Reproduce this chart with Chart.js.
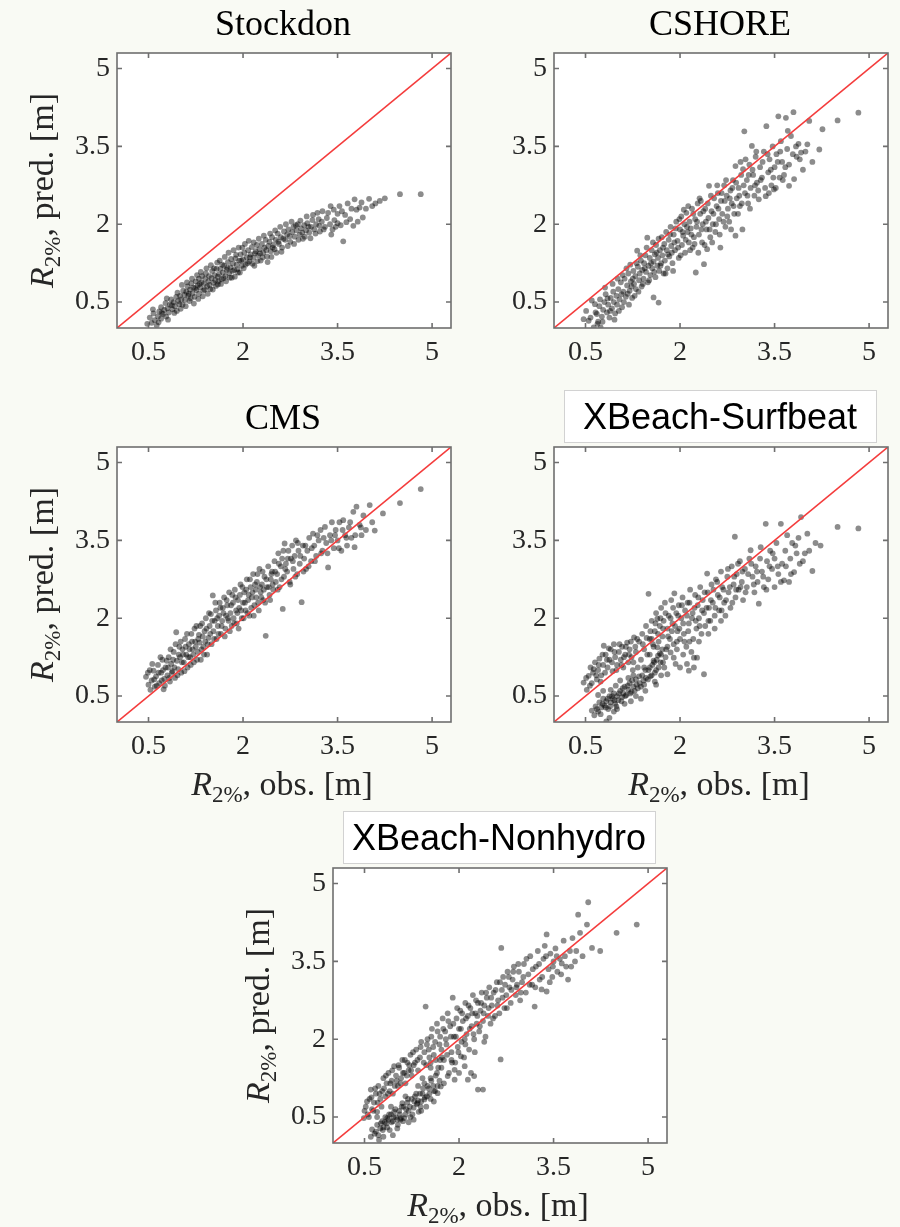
<!DOCTYPE html>
<html>
<head>
<meta charset="utf-8">
<script src="https://cdn.jsdelivr.net/npm/chart.js@4.4.0/dist/chart.umd.min.js"></script>
<style>
    body { margin: 0; width: 900px; height: 1227px; overflow: hidden; position: relative; background: #f9faf4; }
    canvas { position: absolute; }
</style>
</head>
<body>
<canvas id="chart-stockdon" width="463" height="427" style="left:0px;top:-9px"></canvas>
<canvas id="chart-cshore" width="463" height="427" style="left:437px;top:-9px"></canvas>
<canvas id="chart-cms" width="463" height="427" style="left:0px;top:385px"></canvas>
<canvas id="chart-surfbeat" width="463" height="427" style="left:437px;top:385px"></canvas>
<canvas id="chart-nonhydro" width="463" height="427" style="left:216px;top:806px"></canvas>
<script>
// Trục chung cho cả 5 ô
const tickValues = [0.5, 2, 3.5, 5];
const axisMin = 0;
const axisMax = 5.3;
const oneToOne = [axisMin, axisMax];

// Dữ liệu: [R2% quan trắc, R2% dự báo]
const stockdonPoints = [
    [0.48,0.08],[0.52,0.2],[0.55,0.1],[0.58,0.28],[0.6,0.15],[0.63,0.05],[0.65,0.22],[0.67,0.32],[0.7,0.18],[0.7,0.4],
    [0.73,0.27],[0.75,0.35],[0.77,0.48],[0.78,0.22],[0.8,0.38],[0.82,0.3],[0.84,0.45],[0.86,0.55],[0.88,0.36],[0.9,0.5],[0.92,0.42],[0.94,0.6],[0.95,0.33],[0.97,0.52],[0.99,0.46],
    [1.0,0.62],[1.02,0.55],[1.04,0.45],[1.05,0.72],[1.07,0.64],[1.08,0.54],[1.1,0.7],[1.12,0.8],[1.13,0.62],[1.15,0.52],[1.16,0.74],[1.18,0.86],[1.2,0.67],[1.21,0.78],[1.23,0.6],[1.25,0.9],[1.26,0.73],[1.28,0.82],[1.3,0.95],[1.3,0.66],
    [1.32,0.78],[1.34,0.88],[1.35,1.0],[1.37,0.72],[1.38,0.85],[1.4,0.95],[1.41,1.05],[1.43,0.8],[1.45,0.9],[1.46,1.0],[1.48,0.75],[1.5,0.96],[1.51,1.1],[1.53,0.87],[1.55,1.02],[1.56,0.92],[1.58,1.14],[1.6,0.84],[1.6,0.99],
    [1.62,1.04],[1.64,1.14],[1.66,0.94],[1.68,1.07],[1.7,1.2],[1.72,1.0],[1.74,1.12],[1.76,1.27],[1.78,1.06],[1.8,1.17],[1.82,0.97],[1.84,1.24],[1.86,1.12],[1.88,1.34],[1.9,1.22],[1.92,1.07],[1.94,1.3],[1.96,1.42],[1.98,1.2],[2.0,1.32],
    [2.02,1.45],[2.04,1.22],[2.06,1.36],[2.08,1.5],[2.1,1.28],[2.12,1.42],[2.14,1.56],[2.16,1.35],[2.18,1.2],[2.2,1.48],[2.22,1.6],[2.24,1.4],[2.26,1.52],[2.28,1.3],[2.3,1.62],[2.32,1.45],[2.34,1.55],[2.36,1.7],[2.38,1.38],[2.4,1.58],[2.42,1.66],[2.44,1.48],[2.46,1.75],[2.48,1.6],
    [2.5,1.52],[2.52,1.7],[2.55,1.82],[2.57,1.62],[2.6,1.75],[2.62,1.55],[2.65,1.86],[2.67,1.7],[2.7,1.8],[2.72,1.9],[2.75,1.66],[2.78,1.85],[2.8,1.95],[2.82,1.76],[2.85,1.88],[2.87,2.0],[2.9,1.8],[2.92,1.92],[2.95,1.72],[2.97,1.98],[3.0,1.88],
    [3.02,2.02],[3.05,1.84],[3.08,1.95],[3.1,2.08],[3.13,1.9],[3.16,2.0],[3.2,2.1],[3.22,1.86],[3.25,2.05],[3.3,1.95],[3.33,2.12],[3.38,2.0],[3.42,1.9],[3.45,2.08],[3.5,2.02],[3.5,2.2],
    [3.39,2.35],[3.53,2.35],[3.55,1.98],[3.59,1.67],[3.62,2.18],[3.66,2.4],[3.7,2.1],[3.75,1.97],[3.77,2.48],[3.8,2.28],[3.85,2.32],[3.9,2.13],[3.95,2.3],[4.0,2.49],[4.05,2.35],[4.17,2.45],[4.25,2.5],[4.49,2.58],[4.82,2.58],
    [0.57,0.36],[0.66,0.11],[0.71,0.29],[0.79,0.57],[0.81,0.16],[0.87,0.44],[0.91,0.29],[0.96,0.68],[1.01,0.37],[1.03,0.83],[1.09,0.42],[1.11,0.88],[1.14,0.66],[1.17,0.57],[1.19,0.95],[1.22,0.47],[1.24,0.77],[1.27,1.02],[1.29,0.56],[1.31,0.85],
    [1.33,1.08],[1.36,0.61],[1.39,0.74],[1.42,1.15],[1.44,0.66],[1.47,0.83],[1.49,1.21],[1.52,0.74],[1.54,1.15],[1.57,0.81],[1.59,1.26],[1.61,0.9],[1.63,1.3],[1.65,0.85],[1.67,1.22],[1.69,0.96],[1.71,1.37],[1.73,0.9],[1.75,1.16],[1.77,1.45],
    [1.79,0.97],[1.81,1.33],[1.83,1.1],[1.85,1.5],[1.87,0.99],[1.89,1.41],[1.91,1.13],[1.93,1.55],[1.95,1.07],[1.97,1.3],[1.99,1.55],[2.01,1.15],[2.03,1.62],[2.07,1.25],[2.09,1.68],[2.11,1.36],[2.15,1.24],[2.17,1.65],[2.19,1.44],[2.23,1.29],
    [2.25,1.72],[2.27,1.44],[2.31,1.36],[2.33,1.78],[2.37,1.5],[2.39,1.27],[2.43,1.82],[2.45,1.37],[2.47,1.55],[2.51,1.88],[2.53,1.45],[2.56,1.66],[2.59,1.95],[2.61,1.47],[2.64,1.72],[2.68,2.0],[2.71,1.58],[2.74,1.77],[2.77,2.05],[2.81,1.62],
    [2.84,1.98],[2.88,1.7],[2.91,2.07],[2.94,1.84],[2.98,1.76],[3.01,2.15],[3.04,1.95],[3.07,1.73],[3.11,2.18],[3.15,1.82],[3.18,2.22],[3.21,1.97],[3.26,2.25],[3.28,1.9],[3.35,2.22],[3.4,1.8],[3.44,2.28],[3.47,1.95],[3.57,2.25],[3.64,2.04],
    [3.72,2.3],[3.82,2.05],[3.88,2.42],[4.1,2.4]
];

const cshorePoints = [
    [0.47,0.17],[0.55,0.14],[0.6,0.53],[0.63,0.01],[0.66,0.3],[0.68,0.27],[0.7,0.12],[0.72,0.42],[0.74,0.01],[0.76,0.22],[0.78,0.35],[0.8,0.5],[0.82,0.65],[0.84,0.3],[0.86,0.45],[0.88,0.2],[0.9,0.58],[0.92,0.38],[0.94,0.7],[0.95,0.5],[0.97,0.28],[0.99,0.62],[1.0,0.45],
    [1.02,0.75],[1.04,0.55],[1.06,0.88],[1.08,0.4],[1.1,0.7],[1.12,0.95],[1.14,0.6],[1.16,0.82],[1.18,1.05],[1.2,0.72],[1.22,0.9],[1.24,0.58],[1.26,1.1],[1.27,0.85],[1.29,1.0],[1.3,0.75],[1.32,1.49],[1.33,1.18],[1.35,0.92],[1.36,1.05],[1.38,1.3],[1.39,0.8],[1.4,1.12],
    [1.42,0.95],[1.43,1.25],[1.45,1.4],[1.46,1.08],[1.48,1.74],[1.49,0.88],[1.5,1.2],[1.52,1.35],[1.53,1.02],[1.55,1.5],[1.56,1.15],[1.58,0.59],[1.58,1.28],[1.6,1.42],[1.61,0.98],[1.62,1.6],[1.64,1.2],[1.65,1.35],[1.66,0.49],[1.67,1.1],[1.68,1.5],[1.7,1.25],[1.71,1.75],[1.72,1.4],[1.74,1.05],[1.75,1.62],[1.76,1.3],[1.78,1.85],[1.79,1.5],[1.8,1.15],[1.82,1.7],[1.83,1.38],[1.85,1.95],[1.86,1.58],[1.88,1.25],[1.9,1.8],
    [1.92,1.5],[1.94,2.05],[1.96,1.68],[1.98,1.35],[2.0,1.9],[2.02,2.15],[2.03,1.6],[2.05,1.78],[2.07,2.0],[2.08,1.45],[2.1,2.22],[2.12,1.85],[2.14,1.65],[2.15,2.05],[2.17,1.92],[2.19,2.3],[2.2,1.55],[2.22,1.75],[2.24,2.1],[2.25,1.07],[2.26,1.95],[2.28,2.4],[2.3,1.8],[2.32,2.2],[2.33,2.45],[2.35,1.65],[2.36,2.0],[2.38,1.23],[2.4,2.3],[2.42,1.9],[2.43,1.52],[2.45,2.12],[2.46,2.74],[2.48,1.75],
    [2.5,2.25],[2.52,2.0],[2.54,2.5],[2.56,1.85],[2.58,2.35],[2.6,2.6],[2.62,2.1],[2.64,1.55],[2.65,2.45],[2.67,2.2],[2.7,2.75],[2.72,1.95],[2.74,2.55],[2.76,2.3],[2.78,2.05],[2.8,2.65],[2.82,2.4],[2.84,2.85],[2.86,2.2],[2.88,1.78],[2.88,3.12],[2.9,2.5],[2.93,2.7],[2.95,2.35],[2.97,2.95],[2.99,1.9],[3.0,3.06],
    [3.02,3.79],[3.03,2.6],[3.06,2.85],[3.08,2.4],[3.1,3.15],[3.12,2.7],[3.14,3.51],[3.16,2.95],[3.18,2.55],[3.2,3.3],[3.22,2.8],[3.25,2.48],[3.27,3.1],[3.3,2.9],[3.33,3.4],[3.36,2.54],[3.37,3.89],[3.4,3.0],[3.42,3.25],[3.45,2.75],[3.47,3.5],[3.49,2.67],[3.5,3.1],
    [3.53,3.35],[3.56,4.08],[3.58,2.9],[3.6,3.6],[3.62,3.2],[3.65,2.95],[3.68,4.05],[3.7,3.45],[3.73,3.15],[3.73,2.74],[3.76,3.7],[3.8,4.16],[3.81,2.87],[3.85,3.3],[3.88,3.55],[3.92,3.38],[3.95,3.05],[4.02,3.54],[4.05,3.99],[4.1,3.2],[4.21,3.44],[4.26,3.83],[4.5,4.0],[4.83,4.15],
    [0.51,0.33],[0.58,0.2],[0.65,0.46],[0.69,0.08],[0.73,0.55],[0.77,0.12],[0.81,0.78],[0.85,0.57],[0.89,0.33],[0.93,0.85],[0.96,0.16],[1.01,0.95],[1.03,0.33],[1.07,0.65],[1.09,1.02],[1.11,0.5],[1.15,1.15],[1.17,0.66],[1.19,0.45],[1.21,1.22],
    [1.23,0.8],[1.25,0.95],[1.28,0.62],[1.31,1.25],[1.34,0.7],[1.37,1.4],[1.41,0.85],[1.44,1.15],[1.47,1.55],[1.51,0.92],[1.54,1.25],[1.57,1.65],[1.59,1.08],[1.63,1.45],[1.66,1.72],[1.69,1.2],[1.73,1.55],[1.77,1.05],[1.81,1.42],[1.84,1.8],
    [1.87,1.45],[1.89,1.1],[1.91,1.65],[1.93,1.92],[1.97,1.55],[1.99,2.1],[2.01,1.4],[2.04,1.85],[2.06,2.28],[2.09,1.7],[2.11,1.95],[2.13,2.35],[2.16,1.5],[2.18,1.8],[2.21,2.2],[2.23,1.62],[2.27,2.05],[2.29,1.45],[2.31,2.5],[2.34,1.9],
    [2.37,2.25],[2.39,1.6],[2.41,2.05],[2.44,2.4],[2.47,1.9],[2.49,2.55],[2.51,1.65],[2.53,2.2],[2.57,2.0],[2.59,2.75],[2.61,2.3],[2.63,1.8],[2.66,2.6],[2.69,2.05],[2.71,2.45],[2.73,2.85],[2.75,2.15],[2.79,2.5],[2.81,1.9],[2.83,2.7],
    [2.85,2.35],[2.89,2.8],[2.92,2.2],[2.94,2.55],[2.96,3.2],[2.98,2.4],[3.01,2.75],[3.04,3.25],[3.07,2.55],[3.09,2.95],[3.11,2.3],[3.15,3.05],[3.19,2.75],[3.21,3.4],[3.24,2.65],[3.28,2.85],[3.31,3.2],[3.35,2.7],[3.39,3.35],[3.41,2.6],
    [3.44,3.05],[3.48,2.9],[3.52,2.7],[3.55,3.2],[3.59,3.4],[3.63,2.85],[3.67,3.1],[3.71,3.8],[3.79,3.35],[3.84,3.5],[3.9,3.25],[3.99,3.4]
];

const cmsPoints = [
    [0.46,0.87],[0.5,0.72],[0.52,1.0],[0.55,0.8],[0.58,0.99],[0.6,0.68],[0.62,0.88],[0.65,1.1],[0.67,0.75],[0.7,0.95],[0.72,1.2],[0.74,0.63],[0.75,0.83],[0.77,1.05],[0.8,0.9],[0.82,1.25],[0.84,0.78],[0.86,1.12],[0.88,0.98],[0.9,1.35],[0.92,0.85],[0.94,1.73],[0.95,1.18],[0.97,1.02],[0.99,1.45],
    [1.0,1.25],[1.02,0.95],[1.04,1.4],[1.06,1.15],[1.08,1.6],[1.1,1.3],[1.12,1.05],[1.14,1.5],[1.16,1.25],[1.18,1.7],[1.2,1.4],[1.22,1.15],[1.24,1.55],[1.26,1.85],[1.28,1.35],[1.3,1.68],[1.31,1.53],[1.33,1.2],[1.35,1.9],[1.37,1.45],[1.39,1.75],[1.41,2.0],[1.43,1.3],[1.45,1.62],[1.47,1.85],[1.49,2.08],[1.5,1.5],
    [1.52,2.44],[1.53,1.75],[1.55,1.95],[1.57,2.15],[1.58,1.6],[1.6,1.85],[1.62,2.05],[1.63,2.3],[1.65,1.7],[1.67,1.95],[1.68,2.2],[1.7,2.4],[1.72,1.8],[1.73,2.05],[1.75,2.25],[1.77,1.95],[1.78,2.5],[1.8,2.1],[1.82,1.85],[1.84,2.3],[1.85,2.0],[1.87,2.55],[1.89,2.15],[1.9,1.9],[1.92,2.35],[1.94,2.2],[1.96,2.65],[1.98,2.0],[2.0,2.3],
    [2.02,2.5],[2.04,2.15],[2.06,2.75],[2.08,2.35],[2.1,2.05],[2.12,2.6],[2.14,2.4],[2.16,2.85],[2.18,2.25],[2.2,2.55],[2.22,2.7],[2.24,2.3],[2.26,2.95],[2.28,2.5],[2.3,2.65],[2.32,2.35],[2.34,2.8],[2.36,1.66],[2.38,2.6],[2.4,3.0],[2.42,2.45],[2.44,2.75],[2.46,2.9],[2.48,2.55],
    [2.5,3.1],[2.52,2.7],[2.54,2.85],[2.56,3.25],[2.58,2.6],[2.6,3.0],[2.62,3.15],[2.63,2.18],[2.65,2.8],[2.66,3.44],[2.68,3.05],[2.7,2.9],[2.72,3.3],[2.74,2.7],[2.76,3.15],[2.78,3.4],[2.8,2.95],[2.82,3.2],[2.84,3.5],[2.86,2.85],[2.88,3.3],[2.9,3.05],[2.93,2.31],[2.95,3.4],[2.97,3.15],[3.0,2.95],
    [3.02,3.3],[3.05,3.55],[3.08,3.1],[3.11,3.63],[3.13,3.4],[3.16,3.2],[3.2,3.5],[3.23,3.7],[3.26,3.3],[3.3,3.76],[3.32,3.45],[3.35,2.98],[3.38,3.6],[3.41,3.85],[3.44,3.35],[3.47,3.7],[3.5,3.5],
    [3.53,3.85],[3.56,3.3],[3.59,3.89],[3.62,3.6],[3.65,3.4],[3.68,3.75],[3.72,3.55],[3.75,4.05],[3.77,3.37],[3.8,4.15],[3.85,3.8],[3.88,3.6],[3.91,3.98],[3.95,3.7],[4.01,4.18],[4.05,3.85],[4.09,3.69],[4.22,4.02],[4.49,4.22],[4.82,4.49],
    [0.49,0.95],[0.53,0.62],[0.56,1.12],[0.59,0.82],[0.63,0.7],[0.66,0.95],[0.69,1.25],[0.71,0.8],[0.73,1.0],[0.76,0.7],[0.79,1.18],[0.81,1.05],[0.83,0.85],[0.85,1.4],[0.87,0.95],[0.89,1.2],[0.91,1.05],[0.93,1.5],[0.96,0.9],[0.98,1.3],
    [1.01,1.55],[1.03,1.15],[1.05,1.3],[1.07,0.98],[1.09,1.45],[1.11,1.7],[1.13,1.25],[1.15,1.4],[1.17,1.1],[1.19,1.55],[1.21,1.3],[1.23,1.8],[1.25,1.45],[1.27,1.2],[1.29,1.6],[1.32,1.85],[1.34,1.4],[1.36,1.65],[1.38,1.3],[1.4,1.55],
    [1.42,1.8],[1.44,1.5],[1.46,2.1],[1.48,1.7],[1.51,1.95],[1.54,1.6],[1.56,2.3],[1.59,2.0],[1.61,1.7],[1.64,2.2],[1.66,1.85],[1.69,2.1],[1.71,1.65],[1.74,2.35],[1.76,2.0],[1.79,1.75],[1.81,2.25],[1.83,2.45],[1.86,1.9],[1.88,2.4],
    [1.91,2.1],[1.93,1.8],[1.95,2.45],[1.97,2.15],[1.99,2.6],[2.01,2.0],[2.03,2.3],[2.05,2.55],[2.07,2.1],[2.09,2.45],[2.11,2.75],[2.13,2.2],[2.15,2.5],[2.17,2.05],[2.19,2.65],[2.21,2.4],[2.23,2.85],[2.25,2.15],[2.27,2.6],[2.29,2.4],
    [2.31,2.9],[2.33,2.55],[2.35,2.3],[2.37,2.75],[2.41,2.6],[2.43,2.35],[2.45,2.85],[2.47,2.65],[2.51,2.9],[2.55,2.55],[2.57,3.05],[2.61,2.75],[2.64,3.3],[2.67,2.95],[2.71,3.15],[2.75,2.65],[2.79,3.1],[2.83,2.8],[2.87,3.45],[2.91,3.2],
    [2.96,2.9],[2.99,3.4],[3.04,3.0],[3.09,3.35],[3.14,3.1],[3.18,3.6],[3.24,3.25],[3.28,3.55],[3.34,3.25],[3.4,3.5],[3.46,3.6],[3.52,3.35],[3.58,3.7],[3.64,3.55],[3.7,3.85],[3.78,3.6],[3.87,3.75]
];

const surfbeatPoints = [
    [0.47,0.76],[0.52,0.62],[0.55,0.89],[0.58,1.05],[0.6,0.75],[0.62,0.95],[0.65,1.15],[0.68,0.82],[0.7,1.0],[0.72,1.22],[0.75,0.9],[0.78,1.1],[0.79,1.47],[0.82,1.3],[0.85,1.05],[0.88,1.2],[0.9,1.4],[0.93,0.98],[0.95,1.5],[0.97,1.25],[1.0,1.1],[1.03,1.35],[1.06,1.2],[1.08,1.45],[1.1,1.05],[1.13,1.3],[1.16,1.53],[1.18,1.15],[1.2,1.4],[1.23,1.25],[1.25,1.0],[1.27,1.63],[1.3,1.35],
    [0.6,0.22],[0.64,0.13],[0.66,0.3],[0.7,0.2],[0.72,0.38],[0.75,0.28],[0.78,0.45],[0.8,0.32],[0.83,0.01],[0.83,0.4],[0.86,0.25],[0.88,0.5],[0.9,0.38],[0.93,0.45],[0.95,0.55],[0.97,0.35],[1.0,0.5],[1.02,0.42],[1.05,0.6],[1.08,0.48],[1.1,0.55],[1.12,0.68],[1.15,0.52],[1.18,0.62],[1.2,0.75],[1.23,0.58],[1.26,0.68],[1.3,0.82],[1.33,0.65],[1.36,0.75],[1.4,0.9],[1.43,0.72],[1.46,0.85],[1.5,1.0],[1.53,0.88],[1.56,1.1],[1.6,0.95],[1.63,1.2],[1.66,1.05],[1.7,1.3],[1.73,1.15],
    [1.35,1.55],[1.38,1.2],[1.4,1.7],[1.43,1.4],[1.46,1.85],[1.48,1.3],[1.5,2.47],[1.52,1.6],[1.55,1.95],[1.58,1.45],[1.6,1.75],[1.62,2.1],[1.64,1.99],[1.66,1.55],[1.68,1.85],[1.7,2.2],[1.72,1.65],[1.74,1.95],[1.76,2.3],[1.78,1.4],[1.8,1.8],[1.82,2.05],[1.84,1.6],[1.86,2.35],[1.88,1.9],[1.9,1.5],[1.91,2.48],[1.93,1.12],[1.94,2.1],[1.96,1.75],[1.98,2.25],[2.0,1.6],
    [2.02,2.0],[2.04,2.4],[2.06,1.7],[2.08,2.15],[2.1,1.45],[2.12,2.3],[2.14,1.9],[2.16,2.55],[2.18,1.35],[2.2,2.1],[2.22,1.05],[2.24,2.45],[2.26,1.8],[2.27,1.24],[2.28,2.25],[2.3,2.0],[2.32,2.6],[2.34,1.7],[2.36,2.35],[2.38,0.92],[2.38,2.1],[2.4,1.85],[2.43,2.86],[2.44,2.5],[2.46,2.2],[2.48,1.95],[2.5,2.65],
    [2.52,2.3],[2.55,2.05],[2.57,2.75],[2.6,2.45],[2.62,2.15],[2.65,2.9],[2.67,2.6],[2.7,2.3],[2.72,2.05],[2.75,2.8],[2.77,2.5],[2.8,2.2],[2.82,3.0],[2.85,2.65],[2.87,3.57],[2.88,2.4],[2.9,2.85],[2.93,2.55],[2.95,3.1],[2.98,2.7],[3.0,2.35],
    [3.03,2.95],[3.06,2.6],[3.1,3.15],[3.12,3.31],[3.15,2.8],[3.18,2.5],[3.2,3.0],[3.23,2.7],[3.25,2.28],[3.28,3.37],[3.3,2.9],[3.33,2.6],[3.36,3.82],[3.38,3.1],[3.4,2.75],[3.43,3.3],[3.46,2.95],[3.5,3.15],[3.5,2.6],
    [3.53,3.45],[3.56,2.85],[3.6,3.82],[3.62,3.05],[3.65,2.73],[3.67,3.3],[3.7,3.6],[3.73,2.7],[3.75,3.15],[3.78,3.45],[3.81,2.89],[3.85,3.25],[3.88,3.55],[3.92,3.95],[3.95,3.1],[4.02,3.63],[4.05,3.3],[4.1,2.91],[4.15,3.45],[4.23,3.4],[4.5,3.76],[4.83,3.73],
    [0.51,0.85],[0.57,0.7],[0.63,1.02],[0.67,0.9],[0.71,1.1],[0.74,0.78],[0.77,1.3],[0.81,0.95],[0.84,1.2],[0.87,1.42],[0.92,1.15],[0.96,1.35],[0.99,1.0],[1.04,1.5],[1.07,1.1],[1.11,1.25],[1.14,1.45],[1.19,1.3],[1.22,1.55],[1.26,1.15],[1.29,1.45],[1.32,1.6],
    [0.68,0.25],[0.74,0.15],[0.77,0.35],[0.82,0.28],[0.85,0.45],[0.89,0.3],[0.92,0.5],[0.96,0.42],[0.99,0.3],[1.03,0.55],[1.07,0.4],[1.09,0.65],[1.13,0.5],[1.17,0.7],[1.21,0.55],[1.24,0.8],[1.28,0.6],[1.31,0.72],[1.35,0.88],[1.38,0.68],
    [1.42,0.8],[1.45,1.0],[1.49,0.82],[1.52,1.05],[1.55,0.9],[1.59,1.15],[1.62,1.0],[1.65,1.28],[1.69,1.15],[1.72,1.4],[1.77,1.25],[1.8,1.45],
    [1.41,1.5],[1.47,1.62],[1.53,1.75],[1.57,1.5],[1.61,1.9],[1.65,1.7],[1.69,2.0],[1.73,1.8],[1.77,2.1],[1.81,1.65],[1.85,2.0],[1.87,1.75],[1.89,2.2],[1.92,1.85],[1.95,1.55],[1.97,2.05],[1.99,1.8],[2.03,2.25],[2.05,1.9],[2.07,1.55],
    [2.11,2.05],[2.13,1.75],[2.15,2.3],[2.19,2.0],[2.21,1.6],[2.23,2.2],[2.25,1.95],[2.29,2.4],[2.31,1.85],[2.35,2.15],[2.39,2.5],[2.42,2.2],[2.45,1.95],[2.49,2.35],[2.53,2.55],[2.56,2.2],[2.59,2.7],[2.63,2.4],[2.66,2.15],[2.69,2.55],
    [2.73,2.35],[2.76,2.95],[2.79,2.6],[2.83,2.3],[2.86,2.8],[2.89,2.55],[2.92,3.05],[2.96,2.6],[2.99,2.9],[3.04,2.5],[3.08,2.85],[3.13,3.05],[3.17,2.65],[3.22,2.9],[3.27,3.15],[3.32,2.8],[3.37,2.55],[3.42,3.0],[3.47,3.25],[3.55,3.0],
    [3.6,2.7],[3.68,3.0],[3.76,2.85],[3.83,3.4],[3.9,3.05],[3.98,3.25],
    [1.43,1.05],[1.58,1.18],[1.64,1.44],[1.8,0.92],[1.85,1.34],[1.9,1.24],[2.0,1.05],[2.11,1.12],[2.14,0.99],[2.22,1.24],[1.75,1.05],[1.95,1.4],[2.05,1.3],[2.15,1.55],[1.68,1.32],[1.52,1.3],[1.26,0.9],[1.18,0.85],[1.05,0.8],[0.98,0.7],
    [0.9,0.62],[0.78,0.6],[0.7,0.52],[1.12,0.35],[0.95,0.2],[1.3,0.5],[1.45,0.6],[1.6,0.78],[1.7,0.9],[1.62,0.72],[1.38,0.45],[0.88,0.08],[1.0,0.25],[1.22,0.4],[1.55,1.6],[1.33,1.05],[2.3,1.55],[2.45,1.7],[2.55,1.8],[2.65,1.95]
];

const nonhydroPoints = [
    [0.49,0.48],[0.52,0.7],[0.55,0.55],[0.58,0.85],[0.6,1.03],[0.62,0.65],[0.65,0.78],[0.68,0.95],[0.7,0.6],[0.72,1.1],[0.75,0.85],[0.78,1.0],[0.8,1.25],[0.83,0.9],[0.85,1.15],[0.88,1.35],[0.9,1.0],[0.93,1.2],[0.95,0.95],[0.97,1.48],[1.0,1.3],[1.03,1.1],[1.05,1.45],[1.08,1.25],[1.1,1.6],[1.13,1.35],[1.15,1.15],[1.18,1.55],[1.2,1.4],[1.23,1.7],[1.25,1.3],[1.28,1.5],
    [0.6,0.12],[0.62,0.26],[0.66,0.18],[0.7,0.35],[0.73,0.06],[0.75,0.28],[0.78,0.42],[0.8,0.3],[0.83,0.5],[0.85,0.38],[0.88,0.45],[0.9,0.25],[0.92,0.55],[0.95,0.42],[0.97,0.6],[1.0,0.5],[1.03,0.35],[1.05,0.62],[1.08,0.48],[1.11,0.42],[1.12,0.7],[1.15,0.55],[1.18,0.78],[1.2,0.62],[1.23,0.5],[1.25,0.85],[1.28,0.68],[1.3,0.9],[1.33,0.75],[1.36,0.6],[1.38,0.95],[1.4,0.8],[1.43,1.05],[1.46,0.88],[1.48,0.7],[1.5,1.1],[1.53,0.95],[1.56,1.2],[1.6,1.0],[1.63,1.3],[1.66,1.1],
    [1.32,1.8],[1.35,1.4],[1.38,1.65],[1.4,1.95],[1.42,1.25],[1.45,1.75],[1.47,2.63],[1.48,1.5],[1.5,2.0],[1.52,1.8],[1.55,1.55],[1.57,2.2],[1.6,1.7],[1.62,1.95],[1.65,2.3],[1.67,1.45],[1.7,2.05],[1.72,1.8],[1.74,2.4],[1.76,1.6],[1.78,2.15],[1.8,1.9],[1.82,2.5],[1.84,1.35],[1.86,2.25],[1.88,1.75],[1.9,2.8],[1.92,2.05],[1.94,1.55],[1.96,2.4],[1.98,1.85],[2.0,2.2],
    [2.02,2.55],[2.04,1.95],[2.06,2.35],[2.08,1.65],[2.1,2.7],[2.12,2.1],[2.14,2.45],[2.16,1.8],[2.18,2.6],[2.2,2.25],[2.22,2.85],[2.24,2.0],[2.26,2.5],[2.28,2.3],[2.3,1.03],[2.3,2.7],[2.32,2.15],[2.34,2.55],[2.36,2.9],[2.38,1.03],[2.38,2.35],[2.4,2.65],[2.42,2.05],[2.44,2.8],[2.46,2.45],[2.48,3.0],[2.5,2.3],
    [2.52,2.65],[2.55,2.9],[2.57,2.45],[2.6,3.1],[2.62,2.75],[2.64,2.5],[2.66,1.61],[2.67,3.76],[2.68,2.95],[2.7,3.2],[2.72,2.6],[2.75,2.85],[2.77,3.3],[2.8,3.0],[2.82,2.7],[2.85,3.15],[2.87,3.4],[2.9,2.85],[2.92,3.05],[2.95,3.3],[2.97,2.75],[3.0,3.1],
    [3.03,3.45],[3.06,2.9],[3.1,3.25],[3.13,3.6],[3.16,3.05],[3.2,2.63],[3.22,3.4],[3.25,3.7],[3.28,3.15],[3.31,2.96],[3.34,3.55],[3.36,3.8],[3.39,2.92],[3.39,4.02],[3.42,3.35],[3.45,3.65],[3.48,3.2],[3.5,3.5],
    [3.53,3.75],[3.56,3.3],[3.6,3.55],[3.63,3.46],[3.66,3.9],[3.7,3.4],[3.73,3.15],[3.76,3.7],[3.8,3.95],[3.84,3.5],[3.89,4.4],[3.92,4.05],[3.96,3.6],[4.03,4.21],[4.05,4.64],[4.11,3.76],[4.24,3.7],[4.5,4.05],[4.82,4.21],
    [0.5,0.62],[0.54,0.8],[0.57,0.5],[0.61,0.88],[0.64,0.62],[0.67,1.05],[0.71,0.78],[0.74,0.95],[0.77,0.7],[0.81,1.05],[0.84,1.3],[0.87,0.95],[0.91,1.15],[0.94,1.4],[0.98,1.1],[1.01,1.2],[1.04,1.5],[1.07,1.15],[1.11,1.35],[1.14,1.6],
    [1.17,1.3],[1.21,1.5],[1.24,1.4],[1.27,1.75],[1.3,1.55],
    [0.68,0.22],[0.72,0.15],[0.76,0.38],[0.79,0.25],[0.82,0.4],[0.86,0.3],[0.89,0.55],[0.93,0.4],[0.96,0.5],[0.99,0.65],[1.02,0.45],[1.06,0.55],[1.09,0.7],[1.13,0.48],[1.16,0.65],[1.19,0.85],[1.22,0.7],[1.26,0.55],[1.29,0.8],[1.32,0.95],
    [1.35,0.82],[1.39,0.7],[1.42,0.95],[1.45,1.15],[1.49,0.9],[1.52,1.05],[1.55,1.25],[1.59,1.1],[1.62,1.0],[1.65,1.35],[1.69,1.2],[1.72,1.45],
    [1.34,1.6],[1.39,1.85],[1.44,1.55],[1.49,1.9],[1.53,1.65],[1.56,2.05],[1.59,1.85],[1.63,1.6],[1.66,2.15],[1.69,1.9],[1.73,1.65],[1.75,2.2],[1.79,2.0],[1.81,1.7],[1.83,2.35],[1.87,2.05],[1.89,1.55],[1.91,2.3],[1.95,2.05],[1.97,2.6],
    [1.99,1.75],[2.03,2.2],[2.05,2.5],[2.09,2.0],[2.11,2.4],[2.15,2.65],[2.17,2.2],[2.21,2.5],[2.23,2.1],[2.27,2.75],[2.29,2.45],[2.33,2.25],[2.35,2.7],[2.39,2.5],[2.43,2.9],[2.47,2.6],[2.51,2.8],[2.54,2.4],[2.58,2.95],[2.61,2.65],
    [2.65,3.1],[2.69,2.8],[2.73,3.05],[2.76,2.6],[2.79,3.2],[2.83,2.95],[2.86,3.3],[2.91,3.0],[2.94,3.45],[2.98,2.9],[3.02,3.2],[3.07,3.55],[3.12,3.05],[3.17,3.35],[3.21,3.0],[3.27,3.45],[3.32,3.2],[3.38,3.6],[3.44,3.1],[3.49,3.4],
    [3.55,3.6],[3.62,3.25],[3.68,3.6],[3.78,3.4],[3.86,3.7],
    [0.86,0.48],[1.07,0.45],[1.1,0.77],[1.34,0.77],[1.45,0.84],[1.66,0.96],[1.71,1.09],[1.93,1.41],[2.09,1.48],[2.19,1.35],[2.24,1.29],[2.14,1.22],[1.93,1.22],[1.82,1.29],[2.03,1.67],[1.76,1.15],[1.88,1.6],[2.0,1.35],[1.55,0.85],[1.4,0.62],
    [1.2,0.4],[0.95,0.15],[0.8,0.12],[1.02,0.28],[1.28,0.45],[1.6,0.8],[0.7,0.5],[0.92,0.7],[1.15,0.9],[1.35,1.1],[1.55,1.45],[1.7,1.6],[2.1,1.9],[2.25,1.75],[2.4,1.95]
];

const SERIF = '"Liberation Serif", "Times New Roman", serif';
const SANS = '"Liberation Sans", Arial, sans-serif';
const TEXT_COLOR = '#262626';

// Nhãn trục dạng R_{2%}, ... (chữ R nghiêng + chỉ số dưới)
function drawMathLabel(ctx, rest, cx, cy, vertical) {
    const parts = [
        { text: 'R', font: 'italic 34px ' + SERIF, dy: 0 },
        { text: '2%', font: '23px ' + SERIF, dy: 7 },
        { text: rest, font: '34px ' + SERIF, dy: 0 }
    ];
    ctx.save();
    ctx.translate(cx, cy);
    if (vertical) ctx.rotate(-Math.PI / 2);
    ctx.textAlign = 'left';
    ctx.textBaseline = 'alphabetic';
    ctx.fillStyle = TEXT_COLOR;
    let total = 0;
    parts.forEach(p => { ctx.font = p.font; p.w = ctx.measureText(p.text).width; total += p.w; });
    let x = -total / 2;
    parts.forEach(p => { ctx.font = p.font; ctx.fillText(p.text, x, p.dy); x += p.w; });
    ctx.restore();
}

// Khung, vạch chia hướng vào trong, tiêu đề
const panelDecor = {
    id: 'panelDecor',
    beforeDatasetsDraw(chart) {
        const { ctx, chartArea: a } = chart;
        ctx.save();
        ctx.fillStyle = '#ffffff';
        ctx.fillRect(a.left, a.top, a.right - a.left, a.bottom - a.top);
        ctx.restore();
    },
    afterDatasetsDraw(chart) {
        const { ctx, chartArea: a, scales } = chart;
        const tl = 5;
        ctx.save();
        ctx.strokeStyle = '#6f6f6f';
        ctx.lineWidth = 1.6;
        ctx.beginPath();
        tickValues.forEach(v => {
            const px = scales.x.getPixelForValue(v);
            ctx.moveTo(px, a.bottom); ctx.lineTo(px, a.bottom - tl);
            ctx.moveTo(px, a.top); ctx.lineTo(px, a.top + tl);
            const py = scales.y.getPixelForValue(v);
            ctx.moveTo(a.left, py); ctx.lineTo(a.left + tl, py);
            ctx.moveTo(a.right, py); ctx.lineTo(a.right - tl, py);
        });
        ctx.stroke();
        ctx.strokeRect(a.left, a.top, a.right - a.left, a.bottom - a.top);
        ctx.restore();
    },
    afterDraw(chart, args, opts) {
        const { ctx, chartArea: a } = chart;
        const cx = (a.left + a.right) / 2;
        const baseY = a.top - 18;
        ctx.save();
        if (opts.boxed) {
            ctx.fillStyle = '#ffffff';
            ctx.fillRect(cx - 157, baseY - 39, 313, 53);
            ctx.strokeStyle = '#d2d2d2';
            ctx.lineWidth = 1;
            ctx.strokeRect(cx - 157 + 0.5, baseY - 39 + 0.5, 312, 52);
            ctx.font = '36px ' + SANS;
        } else {
            ctx.font = '36px ' + SERIF;
        }
        ctx.fillStyle = '#000000';
        ctx.textAlign = 'center';
        ctx.textBaseline = 'alphabetic';
        ctx.fillText(opts.title, cx - 1, baseY);
        ctx.restore();

        if (opts.yLabel) drawMathLabel(ctx, ', pred. [m]', a.left - 64, (a.top + a.bottom) / 2, true);
        if (opts.xLabel) drawMathLabel(ctx, ', obs. [m]', cx - 2, a.bottom + 73, false);
    }
};

function axisOptions(isX) {
    return {
        type: 'linear',
        min: axisMin,
        max: axisMax,
        grid: { display: false, drawTicks: false },
        border: { display: false },
        afterBuildTicks: scale => { scale.ticks = tickValues.map(v => ({ value: v })); },
        afterFit: scale => {
            if (isX) scale.height = 90;
            else scale.width = 117;
        },
        ticks: {
            color: TEXT_COLOR,
            padding: isX ? 8 : 7,
            font: { family: SERIF, size: 28 },
            callback: v => String(v)
        }
    };
}

function makePanel(canvasId, points, decor) {
    const ctx = document.getElementById(canvasId);
    if (!ctx) return;
    return new Chart(ctx, {
        type: 'scatter',
        data: {
            datasets: [
                {
                    type: 'line',
                    data: oneToOne.map(v => ({ x: v, y: v })),
                    borderColor: 'rgb(244, 60, 60)',
                    borderWidth: 1.6,
                    pointRadius: 0,
                    fill: false,
                    order: 0
                },
                {
                    data: points.map(p => ({ x: p[0], y: p[1] })),
                    pointRadius: 2.9,
                    pointBorderWidth: 0,
                    backgroundColor: 'rgba(0, 0, 0, 0.45)',
                    order: 1
                }
            ]
        },
        options: {
            responsive: false,
            animation: false,
            events: [],
            layout: { padding: { top: 62, right: 12, left: 0, bottom: 0 } },
            plugins: {
                legend: { display: false },
                tooltip: { enabled: false },
                panelDecor: decor
            },
            scales: { x: axisOptions(true), y: axisOptions(false) }
        },
        plugins: [panelDecor]
    });
}

makePanel('chart-stockdon', stockdonPoints, { title: 'Stockdon', boxed: false, xLabel: false, yLabel: true });
makePanel('chart-cshore', cshorePoints, { title: 'CSHORE', boxed: false, xLabel: false, yLabel: false });
makePanel('chart-cms', cmsPoints, { title: 'CMS', boxed: false, xLabel: true, yLabel: true });
makePanel('chart-surfbeat', surfbeatPoints, { title: 'XBeach-Surfbeat', boxed: true, xLabel: true, yLabel: false });
makePanel('chart-nonhydro', nonhydroPoints, { title: 'XBeach-Nonhydro', boxed: true, xLabel: true, yLabel: true });
</script>
</body>
</html>
